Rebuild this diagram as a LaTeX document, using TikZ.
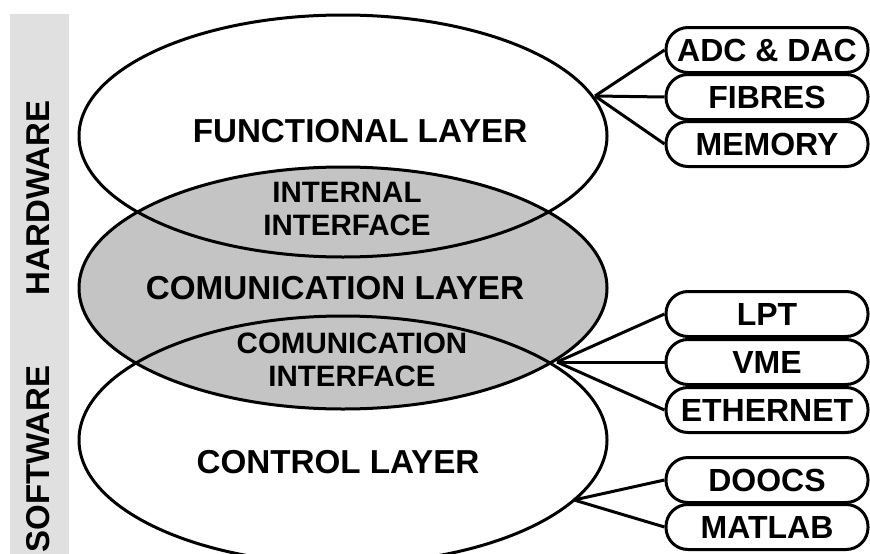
\documentclass[tikz,border=0pt]{standalone}
\usepackage{fontspec}
\setmainfont{Liberation Sans}
\usetikzlibrary{shapes.geometric}
\definecolor{barGray}{RGB}{224,224,224}
\definecolor{layerGray}{RGB}{196,196,196}
\begin{document}
\begin{tikzpicture}[x=1pt,y=-1pt, line width=3pt,
  layer/.style={ellipse, draw, minimum width=528pt, minimum height=242pt, inner sep=0pt},
  big/.style={font=\bfseries\fontsize{33.2}{35}\selectfont, inner sep=0pt},
  side/.style={font=\bfseries\fontsize{33}{35}\selectfont, inner sep=0pt, rotate=90},
  mid/.style={font=\bfseries\fontsize{29.5}{33.5}\selectfont, align=center, inner sep=0pt},
  tag/.style={draw, fill=white, rounded corners=22pt, minimum width=202pt, minimum height=45pt, inner sep=0pt, font=\bfseries\fontsize{32}{34}\selectfont},
  link/.style={line width=3pt}]
\useasboundingbox (0,0) rectangle (870,554);
\fill[barGray] (10,14) rectangle (69,554);
\node[side] (hw) at (38,198) {HARDWARE};
\node[side] (sw) at (38,459) {SOFTWARE};
\node[layer, fill=layerGray] (comm) at (343,288) {};
\node[layer] (func) at (343,136) {};
\node[layer, minimum height=248pt] (ctrl) at (343,440) {};
\node[big] (tfunc) at (360,131) {FUNCTIONAL LAYER};
\node[mid] (tint) at (347,209) {INTERNAL\\INTERFACE};
\node[big] (tcomm) at (335,288) {COMUNICATION LAYER};
\node[mid] (tci) at (352,360) {COMUNICATION\\INTERFACE};
\node[big] (tctrl) at (338,462) {CONTROL LAYER};
\coordinate (h1) at (595,96);
\coordinate (h2) at (557,362);
\coordinate (h3) at (574,500);
\node[tag] (adc) at (767,50) {ADC \& DAC};
\node[tag] (fib) at (767,97) {FIBRES};
\node[tag] (mem) at (767,144) {MEMORY};
\node[tag] (lpt) at (767,314) {LPT};
\node[tag] (vme) at (767,362) {VME};
\node[tag] (eth) at (767,410) {ETHERNET};
\node[tag] (doo) at (767,480) {DOOCS};
\node[tag] (mat) at (767,527) {MATLAB};
\draw[link] (h1) -- (adc.west);
\draw[link] (h1) -- (fib.west);
\draw[link] (h1) -- (mem.west);
\draw[link] (h2) -- (lpt.west);
\draw[link] (h2) -- (vme.west);
\draw[link] (h2) -- (eth.west);
\draw[link] (h3) -- (doo.west);
\draw[link] (h3) -- (mat.west);
\end{tikzpicture}
\end{document}
